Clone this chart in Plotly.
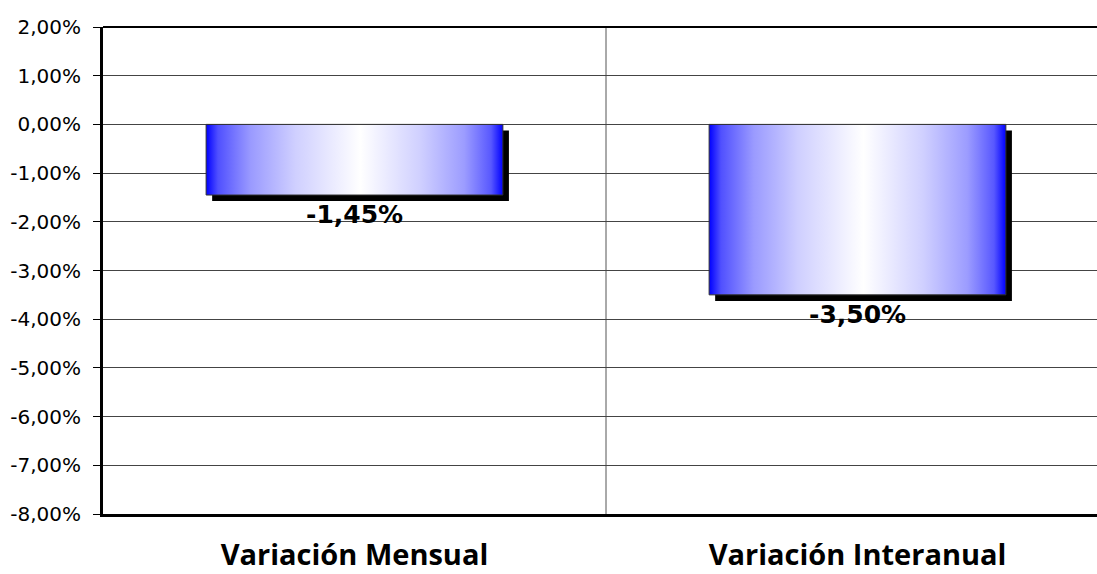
import plotly.graph_objects as go

categories = ["Variación Mensual", "Variación Interanual"]
values = [-1.45, -3.50]
y_tickvals = [2, 1, 0, -1, -2, -3, -4, -5, -6, -7, -8]
y_ticktext = ["2,00%", "1,00%", "0,00%", "-1,00%", "-2,00%", "-3,00%", "-4,00%",
              "-5,00%", "-6,00%", "-7,00%", "-8,00%"]

TICK_FONT = "DejaVu Sans"
VAL_FONT = "DejaVu Sans"
CAT_FONT = "Open Sans"
bar_w = 0.59
sh_dx = 0.012
sh_dy = 0.125

grad = [[0.0, "#0000ff"], [0.04, "#5050ff"], [0.15, "#9a9aff"], [0.3, "#cfcfff"],
        [0.52, "#ffffff"], [0.72, "#d0d0ff"], [0.87, "#9c9cff"], [0.96, "#5858ff"],
        [1.0, "#0000ff"]]

fig = go.Figure()
xs = list(range(len(categories)))

# shadows
fig.add_trace(go.Bar(
    x=xs, y=[v for v in values], base=[-sh_dy] * len(values),
    width=bar_w, offset=-bar_w / 2 + sh_dx,
    marker=dict(color="black", line=dict(width=0)),
    hoverinfo="skip", showlegend=False,
))

# gradient bars
for i, v in enumerate(values):
    x0, x1 = i - bar_w / 2, i + bar_w / 2
    fig.add_trace(go.Scatter(
        x=[x0, x1, x1, x0, x0], y=[0, 0, v, v, 0],
        mode="lines", fill="toself",
        fillgradient=dict(type="horizontal", colorscale=grad),
        line=dict(color="#303030", width=1),
        hoverinfo="skip", showlegend=False,
    ))
    fig.add_annotation(
        x=i, y=v, yanchor="top", xanchor="center", yshift=-3,
        text="<b>" + f"{v:.2f}%".replace(".", ",") + "</b>",
        showarrow=False, font=dict(family=VAL_FONT, size=25, color="black"),
    )

fig.update_layout(
    width=1097, height=574,
    margin=dict(l=103, r=0, t=27, b=60),
    paper_bgcolor="white", plot_bgcolor="white",
    barmode="overlay",
    font=dict(family=TICK_FONT, color="black"),
    shapes=[
        dict(type="line", xref="x", yref="paper", x0=0.5, x1=0.5, y0=0, y1=1,
             line=dict(color="#555555", width=1), layer="below"),
        dict(type="line", xref="paper", yref="paper", x0=0, x1=1, y0=1, y1=1,
             line=dict(color="black", width=2)),
    ],
)

fig.update_xaxes(
    range=[-0.5, -0.5 + 994 / 503], automargin=False,
    tickvals=xs, ticktext=["<b>" + c + "</b>" for c in categories],
    tickfont=dict(family=CAT_FONT, size=29, color="black"),
    ticks="", ticklabelstandoff=13,
    showgrid=False, zeroline=False,
    showline=True, linecolor="black", linewidth=3,
)
fig.update_yaxes(
    range=[-8, 2], tickvals=y_tickvals, ticktext=y_ticktext, automargin=False,
    tickfont=dict(family=TICK_FONT, size=20, color="black"),
    ticks="outside", ticklen=7, tickcolor="black", tickwidth=1,
    ticklabelstandoff=8,
    showgrid=True, gridcolor="#444444", gridwidth=1,
    zeroline=False,
    showline=True, linecolor="black", linewidth=3,
)

fig.write_html("out.html", config={"displayModeBar": False},
               post_script="document.body.style.margin='0px';")
